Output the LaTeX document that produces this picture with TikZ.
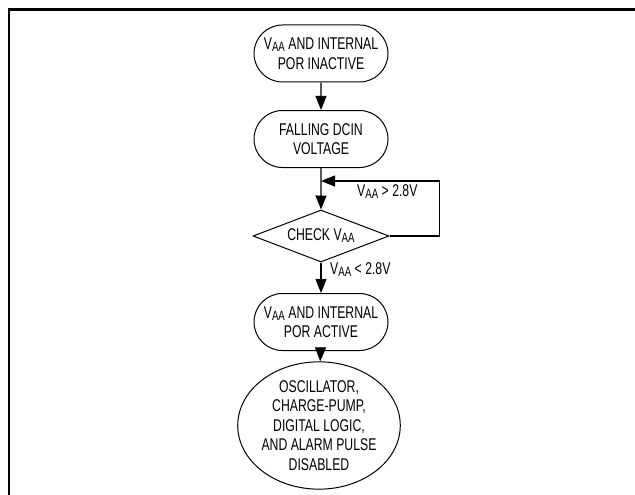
\documentclass[tikz,border=0pt]{standalone}
\usepackage{fontspec}
\setmainfont{Liberation Sans}[FakeStretch=0.72]
\usetikzlibrary{shapes.misc,shapes.geometric,arrows.meta}

\newcommand{\vaa}{V\raisebox{-2pt}{\fontsize{13.5}{13.5}\selectfont AA}}

\begin{document}
\begin{tikzpicture}[x=1pt,y=-1pt,
  font=\fontsize{17}{19.5}\selectfont,
  every node/.style={align=center,inner sep=2pt},
  stadium/.style={rounded rectangle, draw, line width=1pt, minimum width=138pt, minimum height=57pt},
  decision/.style={diamond, draw, line width=1pt, shape aspect=2.6, minimum width=136pt, minimum height=52pt, inner sep=0pt},
  oval/.style={ellipse, draw, line width=1pt, minimum width=149pt, minimum height=101pt, inner sep=0pt},
  flow/.style={line width=1.1pt, -{Triangle[length=14pt,width=11pt]}}]

\useasboundingbox (0,0) rectangle (635,495);
\draw[line width=2.4pt] (8.7,495) -- (8.7,9.5) -- (635,9.5);

\node (n1) at (321,53.5) [stadium]{\vaa{} AND INTERNAL\\POR INACTIVE};
\node (n2) at (321,139) [stadium]{FALLING DCIN\\VOLTAGE};
\node (check) at (321,236) [decision]{CHECK \vaa};
\node (n3) at (321,322) [stadium]{\vaa{} AND INTERNAL\\POR ACTIVE};
\node (n4) at (319,425.5) [oval]{OSCILLATOR,\\CHARGE-PUMP,\\DIGITAL LOGIC,\\AND ALARM PULSE\\DISABLED};

\coordinate (join) at (321,181);

\draw [flow] (n1) to (n2);
\draw [flow] (n2) to (check);
\draw [flow] (check.east) -- ++(50,0) |- (join);
\draw [flow] (check) to (n3);
\draw [flow] (n3) to (n4);

\node (gt) at (357,196) [anchor=base west, inner sep=0pt]{\vaa{} > 2.8V};
\node (lt) at (330,274) [anchor=base west, inner sep=0pt]{\vaa{} < 2.8V};

\end{tikzpicture}
\end{document}
